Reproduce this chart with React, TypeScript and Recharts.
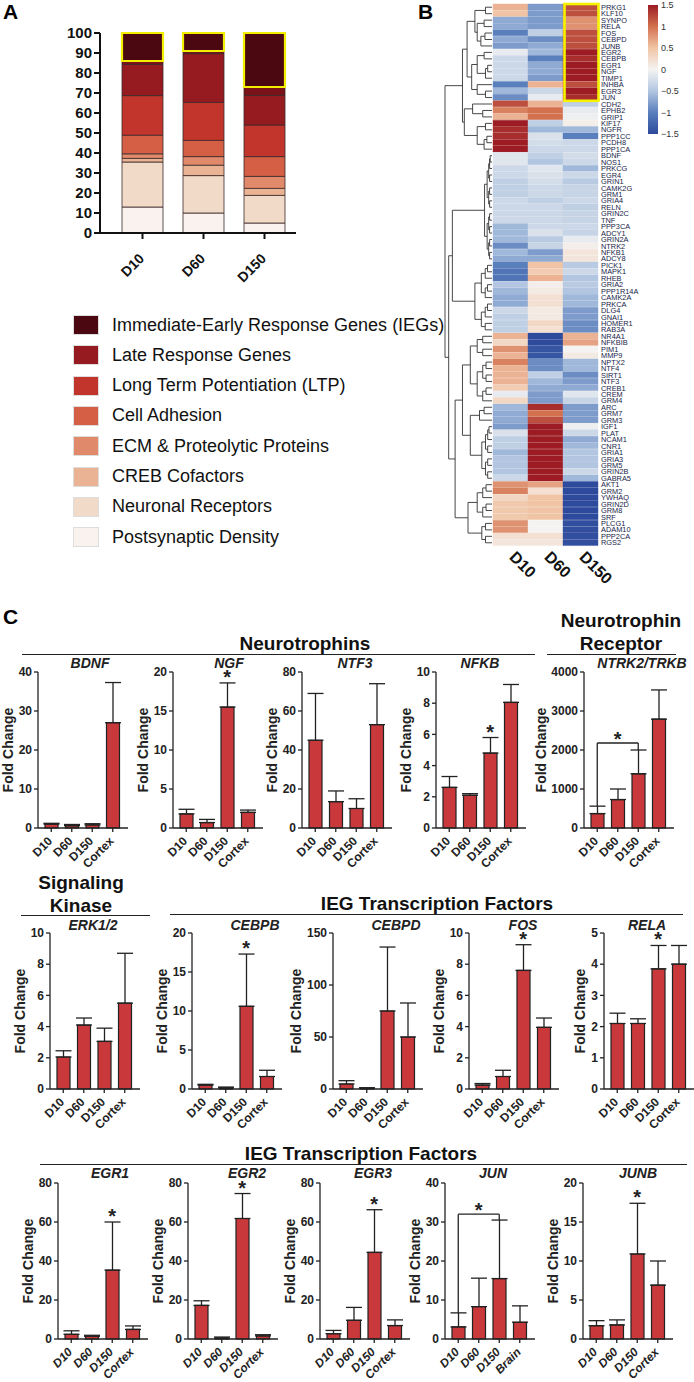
import React from "react";
import {
  BarChart,
  Bar,
  XAxis,
  YAxis,
  Cell,
  ComposedChart,
  ErrorBar,
  ReferenceDot,
  ReferenceLine,
} from "recharts";

const FONT = "Arial, 'Liberation Sans', Helvetica, sans-serif";

// ---------- panel A: share of genes per category (stacked, %) ----------
const stages = ["D10", "D60", "D150"];
const psd = [13, 10, 5];
const neuroRec = [22.5, 18.7, 13.8];
const crebCof = [1.8, 5.2, 3.5];
const ecm = [2.3, 4.3, 6];
const cellAdh = [9.3, 8.1, 9.9];
const ltp = [19.8, 19, 15.8];
const lateResp = [15.6, 24.4, 14.8];
const lateEdge = [1.7, 1.3, 4.2];
const ieg = [14, 9, 27];

const legendLabels = [
  "Immediate-Early Response Genes (IEGs)",
  "Late Response Genes",
  "Long Term Potentiation (LTP)",
  "Cell Adhesion",
  "ECM & Proteolytic Proteins",
  "CREB Cofactors",
  "Neuronal Receptors",
  "Postsynaptic Density",
];
const legendColors = ["#4b0811", "#951b21", "#c2352d", "#d45f45", "#e0896b", "#e9b394", "#f2dac9", "#faf2ee"];

// ---------- panel B: heatmap z-scores ----------
const genes = [
  "PRKG1", "KLF10", "SYNPO", "RELA", "FOS", "CEBPD", "JUNB", "EGR2", "CEBPB", "EGR1", "NGF", "TIMP1",
  "INHBA", "EGR3", "JUN", "CDH2", "EPHB2", "GRIP1", "KIF17", "NGFR", "PPP1CC", "PCDH8", "PPP1CA", "BDNF",
  "NOS1", "PRKCG", "EGR4", "GRIN1", "CAMK2G", "GRM1", "GRIA4", "RELN", "GRIN2C", "TNF", "PPP3CA", "ADCY1",
  "GRIN2A", "NTRK2", "NFKB1", "ADCY8", "PICK1", "MAPK1", "RHEB", "GRIA2", "PPP1R14A", "CAMK2A", "PRKCA",
  "DLG4", "GNAI1", "HOMER1", "RAB3A", "NR4A1", "NFKBIB", "PIM1", "MMP9", "NPTX2", "NTF4", "SIRT1", "NTF3",
  "CREB1", "CREM", "GRM4", "ARC", "GRM7", "GRM3", "IGF1", "PLAT", "NCAM1", "CNR1", "GRIA1", "GRIA3", "GRM5",
  "GRIN2B", "GABRA5", "AKT1", "GRM2", "YWHAQ", "GRIN2D", "GRM8", "SRF", "PLCG1", "ADAM10", "PPP2CA", "RGS2",
];
const d10Z = [
  0.6, 0.5, -0.7, -0.7, -1.0, -0.7, -0.8, -0.1, -0.3, -0.3, -0.3, -0.3,
  -1.0, -0.6, -0.9, 1.2, 0.9, 0.6, 1.5, 1.4, 1.4, 1.5, 1.5, -0.15,
  -0.15, -0.3, -0.3, -0.4, -0.4, -0.4, -0.3, -0.3, -0.3, -0.3, -0.6, -0.6,
  -0.6, -0.9, -0.6, -0.7, -1.0, -1.1, -1.1, -0.5, -0.6, -0.7, -0.7,
  -0.3, -0.4, -0.4, -0.4, 0.6, 0.3, 0.8, 0.6, 0.9, 0.6, 0.6, 0.6,
  0.4, -0.1, 0.3, -0.6, -0.7, -0.7, -0.8, -0.2, -0.4, -0.4, -0.6, -0.5, -0.5,
  -0.5, -0.3, 0.8, 0.9, 0.3, 0.45, 0.45, 0.45, 0.8, 0.8, 0.2, 0.15,
];
const d60Z = [
  -0.8, -0.8, -0.8, -0.8, -0.4, -0.9, -0.7, -0.6, -1.0, -0.7, -0.7, -0.8,
  0.6, -0.3, -0.1, 0.6, 1.0, 1.0, -0.4, -0.6, -0.2, -0.25, -0.3, -0.4,
  -0.5, -0.15, -0.2, -0.25, -0.3, -0.3, -0.4, -0.3, -0.3, -0.3, -0.3, -0.2,
  -0.45, -0.35, -0.8, -0.7, 0.5, 0.4, 0.6, 0.05, 0.1, 0.2, 0.2,
  0.1, 0.1, 0.3, 0.2, -1.5, -1.5, -1.4, -1.4, -0.9, -0.9, -0.4, -0.6,
  -0.7, -0.8, -0.8, 1.4, 1.0, 1.2, 1.5, 1.5, 1.5, 1.5, 1.5, 1.5, 1.5,
  1.5, 1.5, 0.7, 0.2, 0.5, 0.5, 0.5, 0.5, 0.0, 0.0, 0.2, 0.15,
];
const d150Z = [
  1.2, 1.2, 0.8, 0.8, 1.2, 1.2, 1.2, 1.5, 1.4, 1.5, 1.5, 1.5,
  1.2, 1.5, 1.4, -0.4, -0.1, -0.05, 0.05, -0.6, -1.0, -0.3, -0.3, -0.25,
  -0.3, -0.6, -0.3, -0.45, -0.35, -0.35, -0.3, -0.4, -0.35, -0.35, -0.3, -0.35,
  -0.1, 0.05, 0.15, 0.15, -0.45, -0.3, -0.5, -0.45, -0.5, -0.6, -0.6,
  -0.8, -0.8, -0.9, -0.9, 0.6, 0.7, 0.0, 0.1, -0.6, -0.6, -0.9, -0.8,
  -0.7, -0.15, -0.35, -0.8, -0.8, -0.8, -0.05, -0.3, -0.7, -0.6, -0.5, -0.5, -0.5,
  -0.3, -0.6, -1.5, -1.5, -1.5, -1.5, -1.5, -1.5, -1.45, -1.45, -1.45, -1.45,
];
const heatCols = ["D10", "D60", "D150"];
const scaleTicks = [1.5, 1, 0.5, 0, -0.5, -1, -1.5];

// ---------- panel C: qPCR fold change (mean, top of SEM) ----------
const cats = ["D10", "D60", "D150", "Cortex"];
const catsBrain = ["D10", "D60", "D150", "Brain"];
const bdnfMean = [1.0, 0.6, 0.8, 27.0];
const bdnfTop = [1.2, 0.9, 1.1, 37.3];
const ngfMean = [1.8, 0.7, 15.5, 2.0];
const ngfTop = [2.4, 1.1, 18.6, 2.3];
const ntf3Mean = [45, 13.5, 10, 53];
const ntf3Top = [69, 19, 15, 74];
const nfkbMean = [2.6, 2.1, 4.8, 8.05];
const nfkbTop = [3.3, 2.2, 5.8, 9.2];
const ntrk2Mean = [370, 730, 1390, 2790];
const ntrk2Top = [560, 1000, 2000, 3540];
const erkMean = [2.05, 4.1, 3.05, 5.5];
const erkTop = [2.45, 4.55, 3.9, 8.7];
const cebpbMean = [0.5, 0.15, 10.6, 1.6];
const cebpbTop = [0.6, 0.25, 17.3, 2.4];
const cebpdMean = [4.8, 0.8, 75, 50];
const cebpdTop = [8, 1.2, 136.5, 82.7];
const fosMean = [0.25, 0.8, 7.6, 3.95];
const fosTop = [0.35, 1.2, 9.25, 4.55];
const relaMean = [2.1, 2.1, 3.85, 4.0];
const relaTop = [2.43, 2.25, 4.6, 4.6];
const egr1Mean = [2.4, 1.4, 35.3, 4.9];
const egr1Top = [4.2, 1.9, 60, 6.7];
const egr2Mean = [17.2, 0.5, 61.8, 1.6];
const egr2Top = [19.6, 1.0, 74.6, 2.2];
const egr3Mean = [2.7, 9.6, 44.4, 6.9];
const egr3Top = [4.4, 16.2, 66.3, 9.8];
const junMean = [3.1, 8.3, 15.5, 4.3];
const junTop = [6.7, 15.6, 30.5, 8.5];
const junbMean = [1.7, 1.8, 10.9, 6.9];
const junbTop = [2.35, 2.45, 17.4, 10.0];

const stackRows = stages.map((s, i) => ({
  stage: s,
  psd: psd[i],
  neuroRec: neuroRec[i],
  crebCof: crebCof[i],
  ecm: ecm[i],
  cellAdh: cellAdh[i],
  ltp: ltp[i],
  lateResp: lateResp[i],
  lateEdge: lateEdge[i],
  ieg: ieg[i],
}));

const stackKeys = [
  ["psd", "#faf2ee"],
  ["neuroRec", "#f2dac9"],
  ["crebCof", "#e9b394"],
  ["ecm", "#e0896b"],
  ["cellAdh", "#d45f45"],
  ["ltp", "#c2352d"],
  ["lateResp", "#951b21"],
  ["lateEdge", "#7a1219"],
  ["ieg", "#4b0811"],
];

const heatRows = genes.map((g, i) => ({ gene: g, a: d10Z[i], b: d60Z[i], c: d150Z[i] }));

// colour ramp of the heatmap (blue - white - red)
const zStops: [number, string][] = [
  [-1.5, "#2d4a9c"],
  [-1, "#5a7fbd"],
  [-0.5, "#b2c6e1"],
  [0, "#f4f3f2"],
  [0.5, "#f1c4a5"],
  [1, "#d3714f"],
  [1.5, "#9d1c24"],
];

function hex(c: string) {
  return [1, 3, 5].map((k) => parseInt(c.slice(k, k + 2), 16));
}

function zColor(z: number) {
  const v = Math.max(-1.5, Math.min(1.5, z));
  for (let i = 0; i < zStops.length - 1; i++) {
    const [z0, c0] = zStops[i];
    const [z1, c1] = zStops[i + 1];
    if (v >= z0 && v <= z1) {
      const t = (v - z0) / (z1 - z0);
      const a = hex(c0);
      const b = hex(c1);
      const m = a.map((x, k) => Math.round(x + (b[k] - x) * t));
      return `rgb(${m[0]},${m[1]},${m[2]})`;
    }
  }
  return "#f4f3f2";
}

// ---------- dendrogram (approximate clustering of the rows) ----------
type DNode = number | { h: number; kids: DNode[] };
const node = (h: number, kids: DNode[]): DNode => ({ h, kids });
function span(a: number, b: number, h: number): DNode {
  if (a === b) return a;
  const mid = Math.floor((a + b) / 2);
  return node(h, [span(a, mid, h * 0.6), span(mid + 1, b, h * 0.6)]);
}

const dendro = node(1.0, [
  node(0.62, [
    node(0.52, [
      node(0.35, [span(0, 1, 0.12), node(0.3, [span(2, 3, 0.15), span(4, 6, 0.22)])]),
      node(0.42, [node(0.3, [span(7, 8, 0.15), span(9, 11, 0.12)]), node(0.3, [12, span(13, 14, 0.12)])]),
    ]),
    node(0.58, [node(0.4, [15, span(16, 17, 0.18)]), node(0.3, [span(18, 19, 0.12), span(20, 22, 0.15)])]),
  ]),
  node(0.92, [
    node(0.84, [span(23, 39, 0.14), span(40, 50, 0.35)]),
    node(0.78, [
      node(0.62, [
        node(0.45, [span(51, 54, 0.3), span(55, 61, 0.3)]),
        node(0.45, [span(62, 64, 0.25), span(65, 73, 0.2)]),
      ]),
      node(0.5, [span(74, 79, 0.3), span(80, 83, 0.2)]),
    ]),
  ]),
]);

const HEAT_TOP = 4;
const HEAT_ROW = 542 / genes.length;
const rowY = (i: number) => HEAT_TOP + (i + 0.5) * HEAT_ROW;
const treeX = (h: number) => 491 - h * 46;

function drawTree(n: DNode, out: React.ReactNode[]): { x: number; y: number } {
  if (typeof n === "number") return { x: 492, y: rowY(n) };
  const pts = n.kids.map((k) => drawTree(k, out));
  const xn = treeX(n.h);
  pts.forEach((p) => out.push(<line key={out.length} x1={xn} y1={p.y} x2={p.x} y2={p.y} />));
  out.push(<line key={out.length} x1={xn} y1={pts[0].y} x2={xn} y2={pts[pts.length - 1].y} />);
  return { x: xn, y: (pts[0].y + pts[pts.length - 1].y) / 2 };
}

// ---------- small pieces ----------
const StageTick = (p: any) => (
  <text
    transform={`translate(${p.x - 1},${p.y + 15}) rotate(-45)`}
    textAnchor="end"
    dominantBaseline="central"
    fontSize={14}
    fontWeight="bold"
    fill="#111"
    fontFamily={FONT}
  >
    {p.payload.value}
  </text>
);

const HeatTick = (p: any) => (
  <text
    transform={`translate(${p.x - 2},${p.y + 10}) rotate(45)`}
    fontSize={16}
    fontWeight="bold"
    fill="#111"
    fontFamily={FONT}
  >
    {heatCols[Math.round(p.payload.value - 0.5)]}
  </text>
);

const foldLabel = (p: any) => {
  const vb = p.viewBox;
  const cx = vb.x + 8;
  const cy = vb.y + vb.height / 2;
  return (
    <text
      x={cx}
      y={cy}
      transform={`rotate(-90 ${cx} ${cy})`}
      textAnchor="middle"
      dominantBaseline="central"
      fontSize={14}
      fontWeight="bold"
      fill="#222"
      fontFamily={FONT}
    >
      Fold Change
    </text>
  );
};

const makeStar = (lift: number) => (p: any) => {
  const vb = p.viewBox;
  return (
    <text x={vb.x} y={vb.y + 8 - lift} textAnchor="middle" fontSize={20} fontWeight="bold" fill="#222" fontFamily={FONT}>
      *
    </text>
  );
};
const starOverBar = makeStar(7);
const starOverBracket = makeStar(5);

interface MiniSpec {
  title: string;
  cats: string[];
  mean: number[];
  top: number[];
  ticks: number[];
  axisX: number;
  plotTop: number;
  titleX: number;
  yw: number;
  sig?: number[];
  bracket?: { y: number; left: number; right: number };
  italic?: boolean;
}

const MiniChart = ({ s }: { s: MiniSpec }) => {
  const rows = s.cats.map((c, i) => ({ cat: c, v: s.mean[i], err: [0, s.top[i] - s.mean[i]] }));
  const mTop = 12;
  const xH = 52;
  const width = s.yw + 92;
  const height = mTop + 156 + xH;
  const max = s.ticks[s.ticks.length - 1];
  const axisStyle = { stroke: "#222", strokeWidth: 1.3 };
  return (
    <div style={{ position: "absolute", left: s.axisX - s.yw, top: s.plotTop - mTop }}>
      <ComposedChart width={width} height={height} data={rows} margin={{ top: mTop, right: 2, bottom: 0, left: 0 }}>
        <XAxis
          dataKey="cat"
          interval={0}
          height={xH}
          padding={{ left: 3, right: 5 }}
          tickSize={4}
          tickLine={axisStyle}
          axisLine={axisStyle}
          tick={(p: any) => (
            <text
              transform={`translate(${p.x - 1},${p.y + 5}) rotate(-45)`}
              textAnchor="end"
              dominantBaseline="central"
              fontSize={12}
              fontWeight="bold"
              fontStyle={s.italic ? "italic" : "normal"}
              fill="#222"
              fontFamily={FONT}
            >
              {p.payload.value}
            </text>
          )}
        />
        <YAxis
          width={s.yw}
          domain={[0, max]}
          ticks={s.ticks}
          interval={0}
          tickSize={4}
          tickLine={axisStyle}
          axisLine={axisStyle}
          tick={{ fontSize: 12, fontWeight: "bold", fill: "#222", fontFamily: FONT }}
          label={foldLabel}
        />
        <Bar dataKey="v" fill="#c9383b" stroke="#222" strokeWidth={1.2} barSize={13} isAnimationActive={false}>
          <ErrorBar dataKey="err" width={8} stroke="#222" strokeWidth={1.3} />
        </Bar>
        {(s.sig || []).map((i) => (
          <ReferenceDot
            key={i}
            x={s.cats[i]}
            y={s.top[i]}
            r={0}
            fill="none"
            stroke="none"
            ifOverflow="visible"
            label={starOverBar}
          />
        ))}
        {s.bracket && (
          <ReferenceLine
            segment={[
              { x: s.cats[0], y: s.bracket.y },
              { x: s.cats[2], y: s.bracket.y },
            ]}
            stroke="#222"
            strokeWidth={1.3}
            ifOverflow="visible"
          />
        )}
        {s.bracket && (
          <ReferenceLine
            segment={[
              { x: s.cats[0], y: s.bracket.y },
              { x: s.cats[0], y: s.bracket.left },
            ]}
            stroke="#222"
            strokeWidth={1.3}
            ifOverflow="visible"
          />
        )}
        {s.bracket && (
          <ReferenceLine
            segment={[
              { x: s.cats[2], y: s.bracket.y },
              { x: s.cats[2], y: s.bracket.right },
            ]}
            stroke="#222"
            strokeWidth={1.3}
            ifOverflow="visible"
          />
        )}
        {s.bracket && (
          <ReferenceDot
            x={s.cats[1]}
            y={s.bracket.y}
            r={0}
            fill="none"
            stroke="none"
            ifOverflow="visible"
            label={starOverBracket}
          />
        )}
      </ComposedChart>
    </div>
  );
};

const t20 = [0, 5, 10, 15, 20];
const t80 = [0, 20, 40, 60, 80];
const t10 = [0, 2, 4, 6, 8, 10];

const miniSpecs: MiniSpec[] = [
  { title: "BDNF", cats, mean: bdnfMean, top: bdnfTop, ticks: [0, 10, 20, 30, 40], axisX: 38, plotTop: 672, titleX: 90, yw: 38 },
  { title: "NGF", cats, mean: ngfMean, top: ngfTop, ticks: t20, axisX: 173, plotTop: 672, titleX: 229, yw: 38, sig: [2] },
  { title: "NTF3", cats, mean: ntf3Mean, top: ntf3Top, ticks: t80, axisX: 302, plotTop: 672, titleX: 355, yw: 38 },
  { title: "NFKB", cats, mean: nfkbMean, top: nfkbTop, ticks: t10, axisX: 436, plotTop: 672, titleX: 480, yw: 38, sig: [2] },
  {
    title: "NTRK2/TRKB", cats, mean: ntrk2Mean, top: ntrk2Top, ticks: [0, 1000, 2000, 3000, 4000],
    axisX: 584, plotTop: 672, titleX: 642, yw: 51, bracket: { y: 2180, left: 560, right: 2000 },
  },
  { title: "ERK1/2", cats, mean: erkMean, top: erkTop, ticks: t10, axisX: 50, plotTop: 933, titleX: 93, yw: 38 },
  { title: "CEBPB", cats, mean: cebpbMean, top: cebpbTop, ticks: t20, axisX: 192, plotTop: 933, titleX: 255, yw: 38, sig: [2] },
  { title: "CEBPD", cats, mean: cebpdMean, top: cebpdTop, ticks: [0, 50, 100, 150], axisX: 333, plotTop: 933, titleX: 396, yw: 45 },
  { title: "FOS", cats, mean: fosMean, top: fosTop, ticks: t10, axisX: 469, plotTop: 933, titleX: 523, yw: 38, sig: [2] },
  { title: "RELA", cats, mean: relaMean, top: relaTop, ticks: [0, 1, 2, 3, 4, 5], axisX: 604, plotTop: 933, titleX: 647, yw: 32, sig: [2] },
  { title: "EGR1", cats, mean: egr1Mean, top: egr1Top, ticks: t80, axisX: 58, plotTop: 1183, titleX: 110, yw: 38, sig: [2], italic: true },
  { title: "EGR2", cats, mean: egr2Mean, top: egr2Top, ticks: t80, axisX: 188, plotTop: 1183, titleX: 247, yw: 38, sig: [2], italic: true },
  { title: "EGR3", cats, mean: egr3Mean, top: egr3Top, ticks: t80, axisX: 320, plotTop: 1183, titleX: 373, yw: 38, sig: [2], italic: true },
  {
    title: "JUN", cats: catsBrain, mean: junMean, top: junTop, ticks: [0, 10, 20, 30, 40], axisX: 445, plotTop: 1183,
    titleX: 493, yw: 38, italic: true, bracket: { y: 32, left: 6.7, right: 30.5 },
  },
  { title: "JUNB", cats, mean: junbMean, top: junbTop, ticks: t20, axisX: 583, plotTop: 1183, titleX: 638, yw: 38, sig: [2], italic: true },
];

const titleY: Record<number, number> = { 672: 663, 933: 925, 1183: 1173 };

const headStyle: React.CSSProperties = {
  position: "absolute",
  fontFamily: FONT,
  fontWeight: "bold",
  fontSize: 19,
  lineHeight: "23px",
  textAlign: "center",
  color: "#111",
  whiteSpace: "nowrap",
};

const Rule = ({ x1, x2, y }: { x1: number; x2: number; y: number }) => (
  <div style={{ position: "absolute", left: x1, top: y, width: x2 - x1, borderTop: "1.5px solid #222" }} />
);

const Head = ({ cx, y, w, children }: { cx: number; y: number; w: number; children: React.ReactNode }) => (
  <div style={{ ...headStyle, left: cx - w / 2, top: y, width: w }}>{children}</div>
);

export default function App() {
  const treeLines: React.ReactNode[] = [];
  drawTree(dendro, treeLines);
  const axisA = { stroke: "#111", strokeWidth: 2 };

  return (
    <div
      style={{
        position: "absolute",
        left: 0,
        top: 0,
        width: 694,
        height: 1382,
        overflow: "hidden",
        background: "#fff",
        fontFamily: FONT,
      }}
    >
      {/* panel letters */}
      <div style={{ position: "absolute", left: 3, top: 0, fontSize: 21, fontWeight: "bold" }}>A</div>
      <div style={{ position: "absolute", left: 418, top: 0, fontSize: 21, fontWeight: "bold" }}>B</div>
      <div style={{ position: "absolute", left: 3, top: 605, fontSize: 21, fontWeight: "bold" }}>C</div>

      {/* panel A */}
      <div style={{ position: "absolute", left: 0, top: 0 }}>
        <BarChart width={300} height={290} data={stackRows} margin={{ top: 33, right: 4, left: 0, bottom: 0 }} barSize={41}>
          <XAxis
            dataKey="stage"
            height={57}
            interval={0}
            padding={{ left: 12, right: 1 }}
            tickSize={6}
            tickLine={axisA}
            axisLine={axisA}
            tick={<StageTick />}
          />
          <YAxis
            width={100}
            domain={[0, 100]}
            ticks={[0, 10, 20, 30, 40, 50, 60, 70, 80, 90, 100]}
            interval={0}
            tickSize={6}
            tickLine={axisA}
            axisLine={axisA}
            tick={{ fontSize: 15, fontWeight: "bold", fill: "#111", fontFamily: FONT }}
          />
          {stackKeys.map(([k, c]) => (
            <Bar
              key={k}
              dataKey={k}
              stackId="a"
              fill={c}
              stroke={k === "ieg" ? "#f2f000" : "#3a2a2a"}
              strokeWidth={k === "ieg" ? 2.2 : 0.8}
              isAnimationActive={false}
            />
          ))}
        </BarChart>
      </div>

      {/* panel A legend */}
      {legendLabels.map((l, i) => (
        <div key={l} style={{ position: "absolute", left: 73, top: 316 + i * 30.3, height: 18, display: "flex", alignItems: "center" }}>
          <div style={{ width: 24, height: 18, background: legendColors[i], border: "0.5px solid #ddd" }} />
          <div style={{ marginLeft: 13, fontSize: 18, color: "#111", whiteSpace: "nowrap" }}>{l}</div>
        </div>
      ))}

      {/* panel B heatmap */}
      <div style={{ position: "absolute", left: 440, top: 0 }}>
        <BarChart
          layout="vertical"
          width={254}
          height={590}
          data={heatRows}
          margin={{ top: HEAT_TOP, right: 46, bottom: 4, left: 53 }}
          barCategoryGap={0}
        >
          <XAxis
            type="number"
            domain={[0, 3]}
            ticks={[0.5, 1.5, 2.5]}
            axisLine={false}
            tickLine={false}
            tickSize={0}
            height={40}
            tick={<HeatTick />}
          />
          <YAxis
            type="category"
            dataKey="gene"
            orientation="right"
            interval={0}
            width={50}
            axisLine={false}
            tickLine={false}
            tickSize={0}
            tickMargin={3}
            tick={{ fontSize: 7.4, fill: "#18244a", fontFamily: FONT, textAnchor: "start" }}
          />
          {(["a", "b", "c"] as const).map((k) => (
            <Bar key={k} dataKey={() => 1} stackId="h" isAnimationActive={false}>
              {heatRows.map((r, i) => (
                <Cell key={i} fill={zColor(r[k])} stroke={zColor(r[k])} strokeWidth={0.4} />
              ))}
            </Bar>
          ))}
        </BarChart>
      </div>

      {/* dendrogram, IEG box and colour key */}
      <svg style={{ position: "absolute", left: 0, top: 0 }} width={694} height={560}>
        <defs>
          <linearGradient id="zkey" x1="0" y1="0" x2="0" y2="1">
            {zStops
              .slice()
              .reverse()
              .map(([z, c]) => (
                <stop key={z} offset={(1.5 - z) / 3} stopColor={c} />
              ))}
          </linearGradient>
        </defs>
        <g stroke="#333" strokeWidth={0.9} fill="none">
          {treeLines}
        </g>
        <rect
          x={564.5}
          y={rowY(0) - HEAT_ROW / 2}
          width={34}
          height={HEAT_ROW * 15}
          fill="none"
          stroke="#f5f200"
          strokeWidth={2.6}
        />
        <rect x={648} y={5} width={10} height={129} fill="url(#zkey)" />
        {scaleTicks.map((z) => (
          <text
            key={z}
            x={661}
            y={5 + ((1.5 - z) / 3) * 129}
            dominantBaseline="central"
            fontSize={9}
            fill="#333"
            fontFamily={FONT}
          >
            {z < 0 ? `\u2212${Math.abs(z)}` : `${z}`}
          </text>
        ))}
      </svg>

      {/* panel C group headers */}
      <Head cx={305} y={632} w={200}>Neurotrophins</Head>
      <Rule x1={22} x2={535} y={654} />
      <Head cx={621} y={609} w={140}>
        Neurotrophin
        <br />
        Receptor
      </Head>
      <Rule x1={547} x2={676} y={654} />
      <Head cx={81} y={871} w={130}>
        Signaling
        <br />
        Kinase
      </Head>
      <Rule x1={21} x2={150} y={915} />
      <Head cx={437} y={892} w={300}>IEG Transcription Factors</Head>
      <Rule x1={170} x2={683} y={914} />
      <Head cx={361} y={1142} w={300}>IEG Transcription Factors</Head>
      <Rule x1={40} x2={687} y={1164} />

      {/* panel C charts */}
      {miniSpecs.map((s) => (
        <React.Fragment key={s.title}>
          <div
            style={{
              position: "absolute",
              left: s.titleX - 60,
              top: titleY[s.plotTop] - 7,
              width: 120,
              textAlign: "center",
              fontSize: 14,
              lineHeight: "14px",
              fontWeight: "bold",
              fontStyle: "italic",
              color: "#222",
            }}
          >
            {s.title}
          </div>
          <MiniChart s={s} />
        </React.Fragment>
      ))}
    </div>
  );
}
